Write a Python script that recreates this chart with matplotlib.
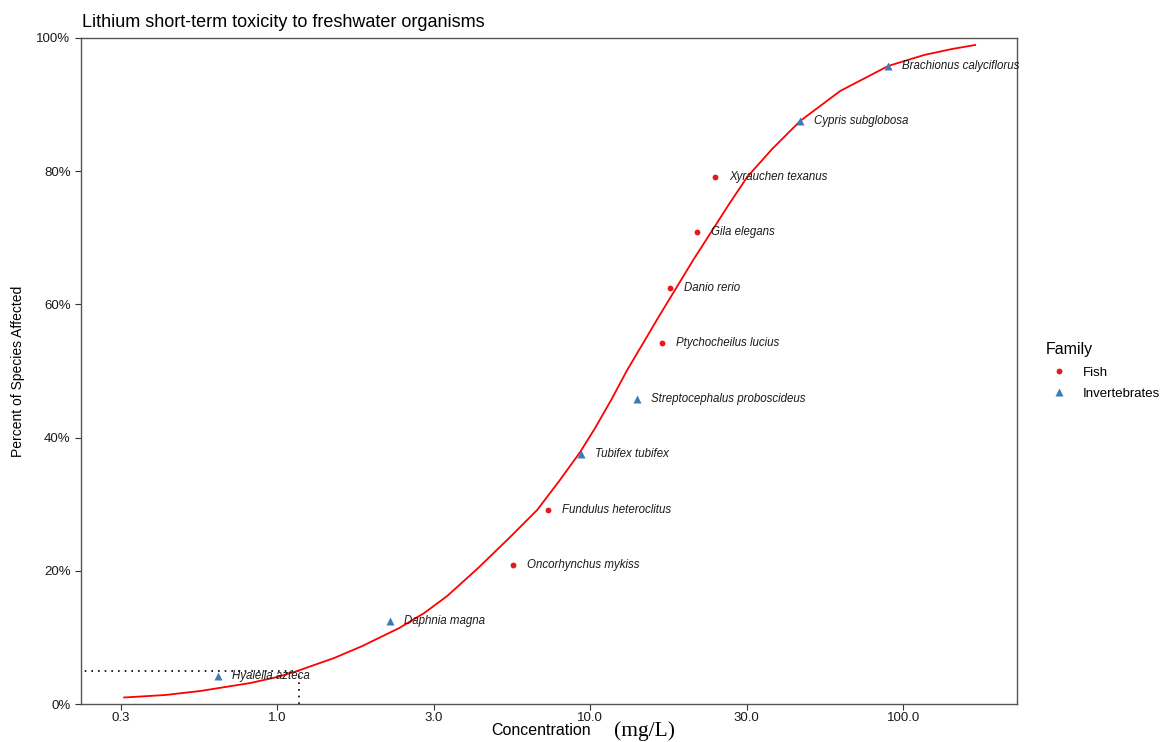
import numpy as np
import matplotlib.pyplot as plt
from matplotlib.lines import Line2D

# species sensitivity data (mg/L) and plotting positions
species = ['Hyalella azteca', 'Daphnia magna', 'Oncorhynchus mykiss', 'Fundulus heteroclitus',
           'Tubifex tubifex', 'Streptocephalus proboscideus', 'Ptychocheilus lucius', 'Danio rerio',
           'Gila elegans', 'Xyrauchen texanus', 'Cypris subglobosa', 'Brachionus calyciflorus']
conc = [0.648, 2.30, 5.68, 7.34, 9.36, 14.1, 17.0, 18.0, 22.0, 25.1, 46.9, 89.6]
family = ['Invertebrates', 'Invertebrates', 'Fish', 'Fish', 'Invertebrates', 'Invertebrates',
          'Fish', 'Fish', 'Fish', 'Fish', 'Invertebrates', 'Invertebrates']
percent = [0.042, 0.125, 0.208, 0.292, 0.375, 0.458, 0.542, 0.625, 0.708, 0.792, 0.875, 0.958]

# fitted distribution curve
curve_conc = [0.3244, 0.4387, 0.5675, 0.8197, 1.0, 1.158, 1.521, 1.869, 2.454, 2.949,
              3.493, 4.387, 5.552, 6.770, 7.961, 9.292, 10.37, 11.67, 13.13, 14.77,
              16.61, 18.83, 21.34, 24.36, 27.80, 31.74, 38.14, 46.87, 62.91, 89.58,
              116.7, 143.4, 169.8]
curve_pct = [0.0098, 0.0135, 0.0195, 0.0315, 0.0405, 0.0495, 0.0691, 0.0870, 0.1141, 0.1366,
             0.1622, 0.2042, 0.2508, 0.2913, 0.3348, 0.3784, 0.4144, 0.4565, 0.5015, 0.5420,
             0.5826, 0.6246, 0.6667, 0.7087, 0.7508, 0.7913, 0.8333, 0.8754, 0.9204, 0.9580,
             0.9745, 0.9835, 0.9895]

hc5 = 1.17
xtick_labels = ['0.3', '1.0', '3.0', '10.0', '30.0', '100.0']
ytick_labels = ['0%', '20%', '40%', '60%', '80%', '100%']

styles = {'Fish': dict(marker='o', color='#E41A1C', ms=4.2),
          'Invertebrates': dict(marker='^', color='#377EB8', ms=5.5)}

plt.rcParams['font.family'] = ['Liberation Sans', 'DejaVu Sans']

fig = plt.figure(figsize=(11.68, 7.42), dpi=100)
ax = fig.add_axes([0.0693, 0.0512, 0.8014, 0.8976])

ax.plot(curve_conc, curve_pct, color='red', lw=1.3, zorder=2)

# HC5 guide lines
ax.plot([0.2, hc5], [0.05, 0.05], color='black', ls=(0, (1, 3)), lw=1.2, zorder=1)
ax.plot([hc5, hc5], [0.0, 0.05], color='black', ls=(0, (1, 3)), lw=1.2, zorder=1)

for name, x, y, fam in zip(species, conc, percent, family):
    st = styles[fam]
    ax.plot(x, y, ls='none', marker=st['marker'], color=st['color'], ms=st['ms'],
            mec='none', zorder=3)
    t = ax.annotate(name, (x, y), xytext=(10, 0), textcoords='offset points',
                    fontsize=8.3, style='italic', color='#1a1a1a', va='center', ha='left')
    t.set_clip_on(True)

ax.set_xscale('log')
ax.set_xlim(0.236, 231)
ax.set_ylim(0, 1)
ax.set_xticks(10 ** np.arange(-0.5, 2.01, 0.5))
ax.set_xticklabels(xtick_labels)
ax.xaxis.set_minor_locator(plt.NullLocator())
ax.set_yticks([0, 0.2, 0.4, 0.6, 0.8, 1.0])
ax.set_yticklabels(ytick_labels)
ax.tick_params(length=4, width=0.8, color='#333333', labelsize=9.5, labelcolor='#1a1a1a')
ax.tick_params(axis='x', pad=1.5)

for s in ax.spines.values():
    s.set_color('#555555')
    s.set_linewidth(1.0)

ax.set_ylabel('Percent of Species Affected', fontsize=10, labelpad=8)
fig.text(0.506, 0.006, 'Concentration', fontsize=11.5, ha='right', va='bottom')
fig.text(0.526, 0.002, '(mg/L)', fontsize=15.5, family=['Liberation Serif', 'DejaVu Serif'],
         ha='left', va='bottom')

fig.text(0.0702, 0.958, 'Lithium short-term toxicity to freshwater organisms',
         fontsize=13, ha='left', va='bottom')

handles = [Line2D([], [], ls='none', marker=styles[f]['marker'], color=styles[f]['color'],
                  ms=styles[f]['ms'], mec='none') for f in ['Fish', 'Invertebrates']]
leg = fig.legend(handles, ['Fish', 'Invertebrates'], title='Family', loc='center left',
                 bbox_to_anchor=(0.885, 0.5), frameon=False, fontsize=9.5,
                 title_fontsize=11.5, handlelength=2.0, handletextpad=0.8, labelspacing=0.7)
leg._legend_box.align = 'left'

fig.savefig('out.png', dpi=100)
